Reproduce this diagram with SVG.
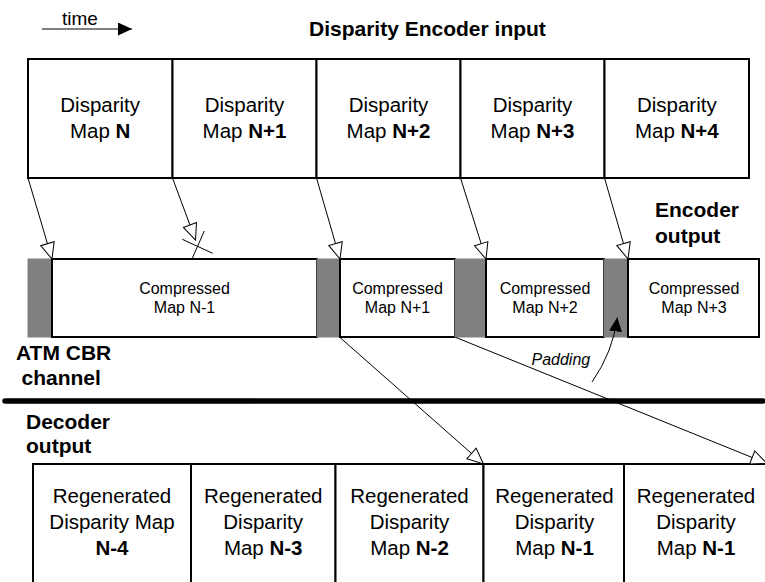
<svg xmlns="http://www.w3.org/2000/svg" width="765" height="582" viewBox="0 0 765 582">
  <style>
    text { font-family: "Liberation Sans", Arial, sans-serif; fill: #000; }
    .big { font-size: 20.5px; text-anchor: middle; }
    .small { font-size: 16px; text-anchor: middle; }
    .head { font-size: 21px; font-weight: bold; }
    .b { font-weight: bold; }
    .box { fill: #fff; stroke: #000; stroke-width: 2; }
    .pad { fill: #808080; stroke: #808080; stroke-width: 1; }
    .conn { fill: none; stroke: #000; stroke-width: 1; }
  </style>
  <defs>
    <marker id="open" viewBox="-1 -1 18 16" refX="16" refY="7" markerWidth="18" markerHeight="16" markerUnits="userSpaceOnUse" orient="auto">
      <path d="M0,0 L16,7 L0,14 Z" fill="#fff" stroke="#000" stroke-width="1"/>
    </marker>
    <marker id="solid" viewBox="0 0 14 13" refX="14" refY="6.5" markerWidth="14" markerHeight="13" markerUnits="userSpaceOnUse" orient="auto">
      <path d="M0,0 L14,6.5 L0,13 Z" fill="#000"/>
    </marker>
  </defs>

  <rect width="765" height="582" fill="#fff"/>

  <!-- time axis -->
  <g id="time-axis">
    <line x1="42" y1="29" x2="132" y2="29" stroke="#000" stroke-width="1.2" marker-end="url(#solid)"/>
    <text x="62" y="25" style="font-size:19px">time</text>
  </g>

  <!-- section headings -->
  <text class="head" x="309" y="36">Disparity Encoder input</text>
  <text class="head" x="655" y="217">Encoder</text>
  <text class="head" x="655" y="243">output</text>
  <text class="head" x="16" y="360">ATM CBR</text>
  <text class="head" x="21.5" y="385">channel</text>
  <text class="head" x="26" y="429">Decoder</text>
  <text class="head" x="26" y="453">output</text>

  <!-- encoder input maps -->
  <g id="input-n">
    <rect class="box" x="28" y="59" width="144.5" height="119"/>
    <text class="big" x="100.2" y="112">Disparity</text>
    <text class="big" x="100.2" y="137.5">Map <tspan class="b">N</tspan></text>
  </g>
  <g id="input-n1">
    <rect class="box" x="172.5" y="59" width="144" height="119"/>
    <text class="big" x="244.5" y="112">Disparity</text>
    <text class="big" x="244.5" y="137.5">Map <tspan class="b">N+1</tspan></text>
  </g>
  <g id="input-n2">
    <rect class="box" x="316.5" y="59" width="144" height="119"/>
    <text class="big" x="388.5" y="112">Disparity</text>
    <text class="big" x="388.5" y="137.5">Map <tspan class="b">N+2</tspan></text>
  </g>
  <g id="input-n3">
    <rect class="box" x="460.5" y="59" width="144" height="119"/>
    <text class="big" x="532.5" y="112">Disparity</text>
    <text class="big" x="532.5" y="137.5">Map <tspan class="b">N+3</tspan></text>
  </g>
  <g id="input-n4">
    <rect class="box" x="604.5" y="59" width="144.5" height="119"/>
    <text class="big" x="676.8" y="112">Disparity</text>
    <text class="big" x="676.8" y="137.5">Map <tspan class="b">N+4</tspan></text>
  </g>

  <!-- channel: padding slots and compressed maps -->
  <g id="pad-1"><rect class="pad" x="28" y="259" width="24" height="78"/></g>
  <g id="comp-n-1">
    <rect class="box" x="52" y="259" width="265" height="78"/>
    <text class="small" x="184.5" y="294.3">Compressed</text>
    <text class="small" x="184.5" y="313.3">Map N-1</text>
  </g>
  <g id="pad-2"><rect class="pad" x="317" y="259" width="23" height="78"/></g>
  <g id="comp-n1">
    <rect class="box" x="340" y="259" width="115" height="78"/>
    <text class="small" x="397.5" y="294.3">Compressed</text>
    <text class="small" x="397.5" y="313.3">Map N+1</text>
  </g>
  <g id="pad-3"><rect class="pad" x="455" y="259" width="31" height="78"/></g>
  <g id="comp-n2">
    <rect class="box" x="486" y="259" width="118" height="78"/>
    <text class="small" x="545" y="294.3">Compressed</text>
    <text class="small" x="545" y="313.3">Map N+2</text>
  </g>
  <g id="pad-4"><rect class="pad" x="604" y="259" width="24" height="78"/></g>
  <g id="comp-n3">
    <rect class="box" x="628" y="259" width="131" height="78"/>
    <text class="small" x="694" y="294.3">Compressed</text>
    <text class="small" x="694" y="313.3">Map N+3</text>
  </g>

  <!-- channel boundary -->
  <line x1="5" y1="401" x2="763" y2="401" stroke="#000" stroke-width="5.5" stroke-linecap="round"/>

  <!-- decoder output maps -->
  <g id="out-n-4">
    <rect class="box" x="33" y="464" width="158" height="140"/>
    <text class="big" x="112" y="503.3">Regenerated</text>
    <text class="big" x="112" y="529.3">Disparity Map</text>
    <text class="big b" x="112" y="555">N-4</text>
  </g>
  <g id="out-n-3">
    <rect class="box" x="191" y="464" width="144.5" height="140"/>
    <text class="big" x="263.2" y="503.3">Regenerated</text>
    <text class="big" x="263.2" y="529.3">Disparity</text>
    <text class="big" x="263.2" y="555">Map <tspan class="b">N-3</tspan></text>
  </g>
  <g id="out-n-2">
    <rect class="box" x="335.5" y="464" width="148" height="140"/>
    <text class="big" x="409.5" y="503.3">Regenerated</text>
    <text class="big" x="409.5" y="529.3">Disparity</text>
    <text class="big" x="409.5" y="555">Map <tspan class="b">N-2</tspan></text>
  </g>
  <g id="out-n-1a">
    <rect class="box" x="483.5" y="464" width="140.5" height="140"/>
    <text class="big" x="554.5" y="503.3">Regenerated</text>
    <text class="big" x="554.5" y="529.3">Disparity</text>
    <text class="big" x="554.5" y="555">Map <tspan class="b">N-1</tspan></text>
  </g>
  <g id="out-n-1b">
    <rect class="box" x="624" y="464" width="144" height="140"/>
    <text class="big" x="696" y="503.3">Regenerated</text>
    <text class="big" x="696" y="529.3">Disparity</text>
    <text class="big" x="696" y="555">Map <tspan class="b">N-1</tspan></text>
  </g>

  <!-- connectors -->
  <g id="connectors">
    <line class="conn" x1="28" y1="178" x2="52" y2="259" marker-end="url(#open)"/>
    <line class="conn" x1="172.5" y1="178" x2="195.5" y2="240" marker-end="url(#open)"/>
    <line class="conn" x1="182.3" y1="239.3" x2="212.7" y2="253.3"/>
    <line class="conn" x1="204.3" y1="231" x2="192.3" y2="258.3"/>
    <line class="conn" x1="316.5" y1="178" x2="340" y2="259" marker-end="url(#open)"/>
    <line class="conn" x1="460.5" y1="178" x2="486" y2="259" marker-end="url(#open)"/>
    <line class="conn" x1="604.5" y1="178" x2="628" y2="259" marker-end="url(#open)"/>
    <line class="conn" x1="340" y1="337.5" x2="483.5" y2="464" marker-end="url(#open)"/>
    <line class="conn" x1="456" y1="337.5" x2="767" y2="463.5" marker-end="url(#open)"/>
    <path class="conn" d="M592,382 Q613,352 617.3,317.5" marker-end="url(#solid)"/>
    <text x="531.5" y="365" style="font-size:16px;font-style:italic">Padding</text>
  </g>
</svg>
